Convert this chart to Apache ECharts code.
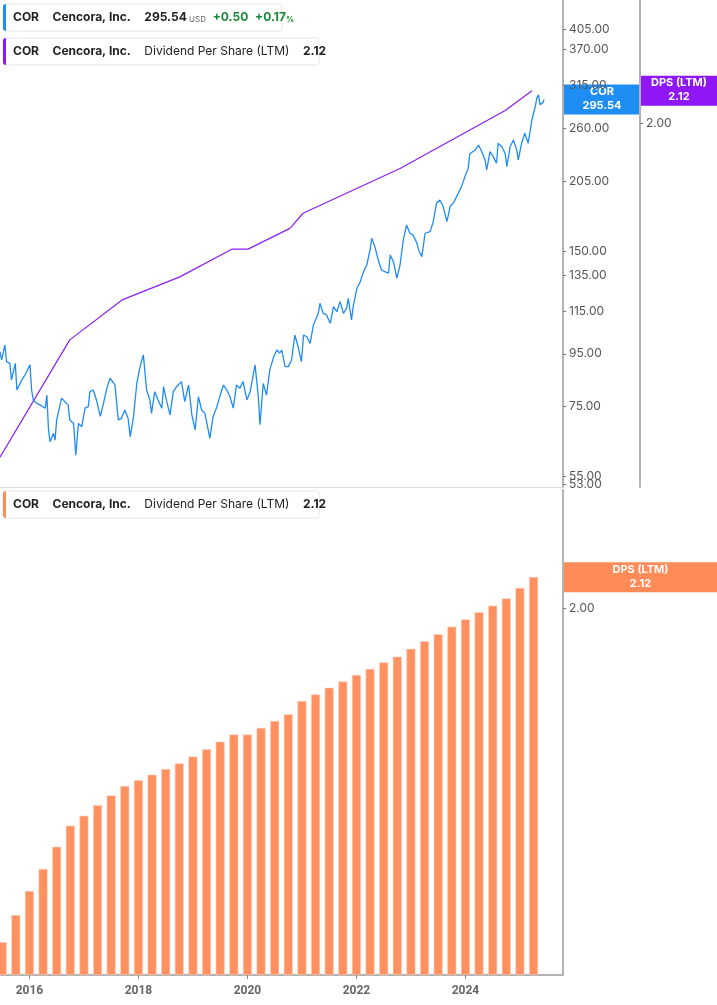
<!DOCTYPE html>
<html><head><meta charset="utf-8">
<script src="https://cdn.jsdelivr.net/npm/echarts@6/dist/echarts.min.js"></script>
<style>html,body{margin:0;padding:0;background:#fff}#c{width:717px;height:1005px}</style>
</head><body><div id="c"></div>
<script>
// ---- data ----
const priceYears = [2015.46,2015.49,2015.55,2015.58,2015.64,2015.67,2015.74,2015.77,2015.80,2015.86,2015.92,2016.01,2016.04,2016.07,2016.13,2016.19,2016.29,2016.32,2016.35,2016.38,2016.44,2016.47,2016.50,2016.59,2016.65,2016.71,2016.74,2016.81,2016.85,2016.90,2016.96,2017.02,2017.08,2017.11,2017.17,2017.23,2017.30,2017.36,2017.42,2017.48,2017.57,2017.63,2017.69,2017.75,2017.81,2017.85,2017.91,2017.97,2018.03,2018.09,2018.15,2018.21,2018.24,2018.30,2018.36,2018.43,2018.46,2018.52,2018.58,2018.64,2018.70,2018.79,2018.85,2018.92,2018.98,2019.04,2019.10,2019.16,2019.22,2019.28,2019.31,2019.37,2019.44,2019.50,2019.56,2019.62,2019.68,2019.74,2019.80,2019.86,2019.92,2019.99,2020.05,2020.14,2020.20,2020.23,2020.29,2020.35,2020.41,2020.48,2020.54,2020.59,2020.63,2020.69,2020.75,2020.81,2020.87,2020.93,2020.99,2021.03,2021.09,2021.15,2021.21,2021.30,2021.33,2021.39,2021.45,2021.52,2021.58,2021.64,2021.70,2021.76,2021.82,2021.85,2021.91,2021.94,2022.01,2022.07,2022.13,2022.19,2022.25,2022.28,2022.34,2022.40,2022.46,2022.52,2022.59,2022.62,2022.68,2022.74,2022.80,2022.86,2022.92,2022.98,2023.04,2023.11,2023.14,2023.20,2023.26,2023.35,2023.41,2023.47,2023.53,2023.59,2023.66,2023.72,2023.78,2023.87,2023.93,2023.99,2024.05,2024.08,2024.18,2024.24,2024.30,2024.36,2024.39,2024.45,2024.51,2024.57,2024.60,2024.67,2024.73,2024.76,2024.82,2024.88,2024.94,2024.97,2025.03,2025.09,2025.15,2025.22,2025.25,2025.28,2025.31,2025.34,2025.37,2025.43,2025.44];
const priceValues = [95.9,92.4,98.8,91.7,91.0,84.5,91.0,80.8,80.2,84.5,86.4,90.4,80.8,77.3,76.2,75.6,74.5,79.0,67.6,64.1,66.6,64.6,70.7,77.9,76.7,75.6,70.7,69.6,60.4,69.6,68.6,74.5,75.0,80.2,80.8,77.3,71.8,76.2,81.4,85.2,82.6,70.7,71.2,73.9,71.2,65.6,71.8,83.2,89.7,94.5,80.8,77.3,72.8,80.2,77.3,74.5,82.0,76.7,72.3,80.2,82.0,83.9,76.7,82.6,72.3,67.6,78.4,73.9,72.8,67.6,65.1,71.8,75.0,79.0,82.6,80.8,78.4,74.5,82.6,81.4,83.9,77.3,80.2,90.4,78.4,69.2,83.2,79.0,88.4,93.6,96.6,95.3,96.6,89.7,89.7,92.4,103.3,98.0,91.7,103.3,102.5,99.5,108.0,113.8,119.0,113.8,113.0,108.9,117.2,114.6,119.9,113.8,116.5,121.7,110.5,117.2,127.3,131.0,137.1,141.2,151.0,159.1,153.1,144.4,138.1,137.1,136.1,147.7,143.3,133.1,141.2,157.9,168.8,162.7,161.5,155.6,151.0,146.6,162.7,163.8,171.3,186.3,188.8,183.5,171.3,183.5,186.3,194.6,200.6,209.5,217.3,232.1,236.0,241.3,234.2,225.7,215.8,234.2,229.1,222.4,243.1,239.5,232.1,219.1,239.5,246.8,236.0,225.7,243.1,254.3,243.1,269.8,278.0,286.4,297.5,301.8,288.9,292.4,295.54];
const dpsLineYears = [2015.46,2016.74,2017.70,2018.76,2019.72,2020.01,2020.78,2021.02,2022.80,2024.73,2025.22];
const dpsLineValues = [1.107,1.363,1.463,1.524,1.601,1.601,1.661,1.706,1.847,2.047,2.12];
const barYears = [2015.50,2015.75,2016.00,2016.25,2016.50,2016.75,2017.00,2017.25,2017.50,2017.75,2018.00,2018.25,2018.50,2018.75,2019.00,2019.25,2019.50,2019.75,2020.00,2020.25,2020.50,2020.75,2021.00,2021.25,2021.50,2021.75,2022.00,2022.25,2022.50,2022.75,2023.00,2023.25,2023.50,2023.75,2024.00,2024.25,2024.50,2024.75,2025.00,2025.25];
const barValues = [1.064,1.120,1.172,1.222,1.274,1.326,1.351,1.378,1.404,1.429,1.445,1.460,1.476,1.491,1.511,1.532,1.554,1.575,1.575,1.595,1.616,1.637,1.678,1.699,1.721,1.741,1.763,1.783,1.805,1.825,1.852,1.879,1.904,1.931,1.958,1.985,2.009,2.037,2.078,2.121];
const priceTicks = [53,75,95,115,135,150,205,260,315,370,405];
const priceTicksExtra = [55];
const dpsTicks = [2.00];
const yearTicks = [2016,2018,2020,2022,2024];
const lastPrice = 295.54, lastDps = 2.12;

const L = Math.log;
const zip = (xs, ys) => xs.map((x,i)=>[x, L(ys[i])]);
const axisGray = '#b3b3b3', labelGray = '#555';
const X0 = 2015.46, X1 = 2025.79;

const chart = echarts.init(document.getElementById('c'), null, {renderer:'canvas'});
const xCommon = {type:'value', min:X0, max:X1};
const yLab = (dec)=>({color:labelGray, fontSize:12, fontFamily:'Inter, Roboto, sans-serif', margin:6, hideOverlap:false,
  showMinLabel:true, showMaxLabel:true, formatter:v=>Math.exp(v).toFixed(dec)});
chart.setOption({
  animation:false,
  grid:[{left:0,right:154,top:0,height:487},{left:0,right:154,top:490,height:485}],
  xAxis:[
    Object.assign({gridIndex:0, axisLine:{show:true,lineStyle:{color:'#ddd'}}, axisTick:{show:false}, axisLabel:{show:false}, splitLine:{show:false}}, xCommon),
    Object.assign({gridIndex:1, axisLine:{show:true,lineStyle:{color:axisGray,width:2}},
      axisTick:{show:true, customValues:yearTicks, length:4, lineStyle:{color:'#888'}},
      axisLabel:{customValues:yearTicks, formatter:v=>String(Math.round(v)), color:'#666', fontWeight:'bold', fontSize:12, fontFamily:'Roboto, sans-serif', margin:10},
      splitLine:{show:false}}, xCommon)
  ],
  yAxis:[
    {gridIndex:0, type:'value', position:'right', min:L(52.4), max:L(461), offset:0,
     axisLine:{show:true,lineStyle:{color:axisGray,width:2}}, splitLine:{show:false},
     axisTick:{show:true, customValues:priceTicks.map(L), length:3, lineStyle:{color:'#777'}},
     axisLabel:Object.assign(yLab(2),{customValues:priceTicks.map(L)})},
    {gridIndex:0, type:'value', position:'right', min:L(1.05), max:L(2.49), offset:77,
     axisLine:{show:true,lineStyle:{color:axisGray,width:2}}, splitLine:{show:false},
     axisTick:{show:true, customValues:dpsTicks.map(L), length:3, lineStyle:{color:'#777'}},
     axisLabel:Object.assign(yLab(2),{customValues:dpsTicks.map(L)})},
    {gridIndex:1, type:'value', position:'right', min:0, max:L(2.5),
     axisLine:{show:true,lineStyle:{color:axisGray,width:2}}, splitLine:{show:false},
     axisTick:{show:true, customValues:dpsTicks.map(L), length:3, lineStyle:{color:'#777'}},
     axisLabel:Object.assign(yLab(2),{customValues:dpsTicks.map(L)})},
    {gridIndex:0, type:'value', position:'right', min:L(52.4), max:L(461), offset:0,
     axisLine:{show:false}, splitLine:{show:false},
     axisTick:{show:true, customValues:priceTicksExtra.map(L), length:3, lineStyle:{color:'#777'}},
     axisLabel:Object.assign(yLab(2),{customValues:priceTicksExtra.map(L)})}
  ],
  series:[
    {type:'line', xAxisIndex:0, yAxisIndex:1, data:zip(dpsLineYears,dpsLineValues), symbol:'none',
     lineStyle:{color:'#8a1ff0',width:1.2}},
    {type:'line', xAxisIndex:0, yAxisIndex:0, data:zip(priceYears,priceValues), symbol:'none',
     lineStyle:{color:'#1f8cf5',width:1.3}},
    {type:'bar', xAxisIndex:1, yAxisIndex:2, data:zip(barYears,barValues), barWidth:9,
     itemStyle:{color:'#ff9060', borderColor:'#ffd0bb', borderWidth:0.6}}
  ]
});

const yP = chart.convertToPixel({yAxisIndex:0}, L(lastPrice));
const yD = chart.convertToPixel({yAxisIndex:1}, L(lastDps));
const yB = chart.convertToPixel({yAxisIndex:2}, L(lastDps));
const tagFont = 'bold 11px Inter, Roboto, sans-serif';
function tag(x,w,y,color,t1,t2){
  return {type:'group', children:[
    {type:'rect', shape:{x:x,y:y-15,width:w,height:30}, style:{fill:color}},
    {type:'text', x:x+w/2, y:y-8, style:{text:t1, fill:'#fff', font:tagFont, align:'center', verticalAlign:'middle'}},
    {type:'text', x:x+w/2, y:y+6, style:{text:t2, fill:'#fff', font:tagFont, align:'center', verticalAlign:'middle'}}
  ]};
}
function legendBox(y,w,color,rich,text){
  return {type:'group', children:[
    {type:'rect', shape:{x:3,y:y,width:w,height:27,r:3}, style:{fill:'#fff', stroke:'#e6e6e6', lineWidth:1}},
    {type:'rect', shape:{x:3,y:y,width:3,height:27,r:[3,0,0,3]}, style:{fill:color}},
    {type:'text', x:13, y:y+13.5, style:{text:text, rich:rich, verticalAlign:'middle', font:'12px Inter, sans-serif'}}
  ]};
}
const rich = {
  b:{fontWeight:'bold', fontSize:12, fill:'#222', fontFamily:'Inter, Roboto, sans-serif'},
  n:{fontSize:12, fill:'#222', fontFamily:'Inter, Roboto, sans-serif'},
  u:{fontSize:8, fill:'#666', fontFamily:'Inter, Roboto, sans-serif', padding:[4,0,0,0]},
  g:{fontWeight:'bold', fontSize:12, fill:'#1a8a3a', fontFamily:'Inter, Roboto, sans-serif'},
  gs:{fontWeight:'bold', fontSize:8, fill:'#1a8a3a', fontFamily:'Inter, Roboto, sans-serif', padding:[4,0,0,0]}
};
chart.setOption({graphic:[
  tag(564,76,yP,'#1e8ef5','COR',lastPrice.toFixed(2)),
  tag(641,76,yD,'#8f16f5','DPS (LTM)',lastDps.toFixed(2)),
  tag(564,153,yB,'#ff8c58','DPS (LTM)',lastDps.toFixed(2)),
  legendBox(4,279,'#1e8ef5',rich,'{b|COR}    {b|Cencora, Inc.}    {b|295.54}{u| USD}  {g|+0.50}  {g|+0.17}{gs|%}'),
  legendBox(38,316,'#8f16f5',rich,'{b|COR}    {b|Cencora, Inc.}    {n|Dividend Per Share (LTM)}    {b|2.12}'),
  legendBox(491,316,'#ff8c58',rich,'{b|COR}    {b|Cencora, Inc.}    {n|Dividend Per Share (LTM)}    {b|2.12}')
]});
</script></body></html>
